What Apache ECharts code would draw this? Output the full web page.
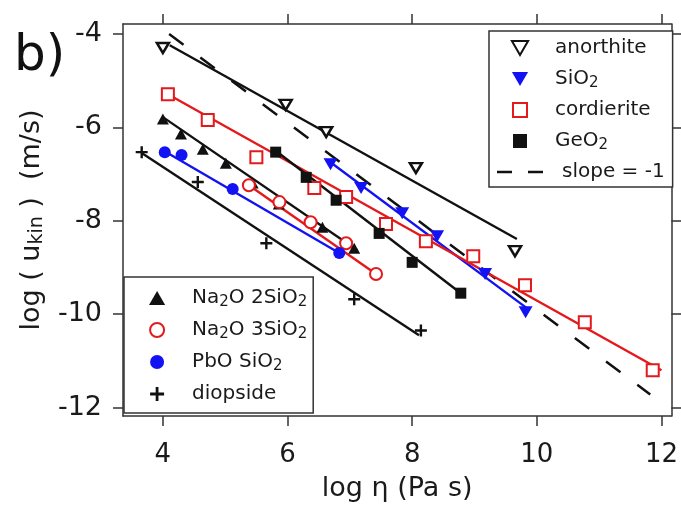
<!DOCTYPE html>
<html><head><meta charset="utf-8">
<script src="https://cdn.jsdelivr.net/npm/echarts@6/dist/echarts.min.js"></script>
<style>html,body{margin:0;padding:0;background:#fff}#c{width:681px;height:507px}</style>
</head><body><div id="c"></div>
<script>
// ---- tick labels ----
const xTicks = [4, 6, 8, 10, 12];
const yTicks = [-12, -10, -8, -6, -4];

// ---- data (log eta, log u_kin) ----
const anorthite = [[4.00,-4.30],[5.97,-5.52],[6.62,-6.10],[8.06,-6.87],[9.65,-8.65]];
const anorthiteFit = [[4.11,-4.24],[9.68,-8.39]];

const sio2 = [[6.69,-6.79],[7.18,-7.30],[7.84,-7.84],[8.40,-8.33],[9.17,-9.14],[9.82,-9.96]];
const sio2Fit = [[6.64,-6.70],[9.84,-9.87]];

const cordierite = [[4.08,-5.29],[4.72,-5.84],[5.50,-6.64],[6.43,-7.30],[6.94,-7.49],[7.58,-8.07],
  [8.22,-8.44],[8.98,-8.76],[9.81,-9.38],[10.77,-10.17],[11.86,-11.20]];
const cordieriteFit = [[4.08,-5.29],[12.00,-11.20]];

const geo2 = [[5.81,-6.53],[6.30,-7.07],[6.78,-7.56],[7.47,-8.27],[8.00,-8.89],[8.78,-9.55]];
const geo2Fit = [[5.81,-6.50],[8.78,-9.55]];

const na2o2sio2 = [[4.00,-5.82],[4.29,-6.14],[4.64,-6.47],[5.01,-6.77],[5.44,-7.19],[5.86,-7.64],[6.56,-8.14],[7.07,-8.59]];
const na2o2sio2Fit = [[4.00,-5.78],[7.12,-8.63]];

const na2o3sio2 = [[5.38,-7.24],[5.87,-7.60],[6.37,-8.03],[6.94,-8.48],[7.42,-9.14]];
const na2o3sio2Fit = [[5.38,-7.24],[7.42,-9.14]];

const pbosio2 = [[4.03,-6.53],[4.30,-6.59],[5.12,-7.32],[6.83,-8.69]];
const pbosio2Fit = [[4.00,-6.49],[6.83,-8.69]];

const diopside = [[3.66,-6.53],[4.56,-7.17],[5.66,-8.48],[7.07,-9.68],[8.14,-10.35]];
const diopsideFit = [[3.66,-6.55],[8.11,-10.45]];

const slopeLine = [[4.10,-4.00],[11.82,-11.72]];

// ---- styling ----
const FONT = 'DejaVu Sans';
const RED = '#e3191c', BLUE = '#1212f2', BLK = '#111';
const DOWN = 'path://M0,0 L10,0 L5,8.66 Z';
const UP = 'path://M5,0 L10,8.66 L0,8.66 Z';
const SQ = 'path://M0,0 H10 V10 H0 Z';
const PLUS = 'path://M4,0 H6 V4 H10 V6 H6 V10 H4 V6 H0 V4 H4 Z';
const DASH2 = 'path://M0,0 H15 V2.5 H0 Z M31,0 H46 V2.5 H31 Z';

function scat(name, data, symbol, size, fill, stroke, bw) {
  return { type: 'scatter', name, data, symbol, symbolSize: size, z: 4,
    itemStyle: { color: fill, borderColor: stroke, borderWidth: bw, opacity: 1 } };
}
function fit(data, color) {
  return { type: 'line', data, symbol: 'none', z: 3, silent: true,
    itemStyle: { color }, lineStyle: { color, width: 2.4 } };
}

const labelMap = {
  'anorthite': '{p|anorthite}',
  'SiO2': '{p|SiO}{s|2}',
  'cordierite': '{p|cordierite}',
  'GeO2': '{p|GeO}{s|2}',
  'slope = -1': '{q|slope = -1}',
  'Na2O 2SiO2': '{p|Na}{s|2}{n|O 2SiO}{s|2}',
  'Na2O 3SiO2': '{p|Na}{s|2}{n|O 3SiO}{s|2}',
  'PbO SiO2': '{p|PbO SiO}{s|2}',
  'diopside': '{p|diopside}'
};
const TXT = '#1a1a1a';
const richLegend = {
  n: { fontSize: 20, lineHeight: 24, fontFamily: FONT, color: TXT, verticalAlign: 'middle' },
  p: { fontSize: 20, lineHeight: 24, fontFamily: FONT, color: TXT, verticalAlign: 'middle', padding: [0,0,0,7] },
  q: { fontSize: 20, lineHeight: 24, fontFamily: FONT, color: TXT, verticalAlign: 'middle', padding: [0,0,0,14] },
  s: { fontSize: 15, lineHeight: 8, fontFamily: FONT, color: TXT, verticalAlign: 'bottom' }
};
function legendItems(names) {
  return names.map(n => ({ name: n }));
}

const axisCommon = {
  type: 'value',
  axisLine: { show: true, onZero: false, lineStyle: { color: '#333', width: 1.5 } },
  axisTick: { show: true, inside: false, length: 10, lineStyle: { color: '#333', width: 1.5 } },
  splitLine: { show: false }
};

const option = {
  animation: false,
  backgroundColor: '#fff',
  grid: { left: 123, right: 8, top: 24, bottom: 91 },
  xAxis: [
    Object.assign({}, axisCommon, {
      position: 'bottom', min: 3.36, max: 12.16,
      axisTick: Object.assign({}, axisCommon.axisTick, { customValues: xTicks }),
      axisLabel: { customValues: xTicks, margin: 26, fontSize: 26, fontFamily: FONT, color: TXT },
      name: 'log η (Pa s)', nameLocation: 'middle', nameGap: 59,
      nameTextStyle: { fontSize: 27, fontFamily: FONT, color: TXT }
    }),
    Object.assign({}, axisCommon, {
      position: 'top', min: 3.36, max: 12.16,
      axisTick: Object.assign({}, axisCommon.axisTick, { customValues: xTicks }),
      axisLabel: { show: false }
    })
  ],
  yAxis: [
    Object.assign({}, axisCommon, {
      position: 'left', min: -12.18, max: -3.786,
      axisTick: Object.assign({}, axisCommon.axisTick, { customValues: yTicks }),
      axisLabel: { customValues: yTicks, margin: 21, fontSize: 27, fontFamily: FONT, color: TXT },
      name: '{m|log ( u}{k|kin}{m| )  (m/s)}', nameLocation: 'middle', nameGap: 76, nameRotate: 90,
      nameTextStyle: { fontSize: 27, fontFamily: FONT, color: TXT,
        rich: {
          m: { fontSize: 27, lineHeight: 30, fontFamily: FONT, color: TXT, verticalAlign: 'middle' },
          k: { fontSize: 19, lineHeight: 10, fontFamily: FONT, color: TXT, verticalAlign: 'bottom' }
        } }
    }),
    Object.assign({}, axisCommon, {
      position: 'right', min: -12.18, max: -3.786,
      axisTick: Object.assign({}, axisCommon.axisTick, { customValues: yTicks }),
      axisLabel: { show: false }
    })
  ],
  legend: [
    {
      orient: 'vertical', left: 489, top: 31, padding: [5, 8, 3, 8],
      itemWidth: 46, itemHeight: 14, itemGap: 7,
      backgroundColor: '#fff', borderColor: '#333', borderWidth: 1.5, borderRadius: 0,
      formatter: n => labelMap[n] || n,
      textStyle: { fontSize: 20, lineHeight: 24, fontFamily: FONT, color: TXT, rich: richLegend },
      data: [
        { name: 'anorthite' }, { name: 'SiO2' }, { name: 'cordierite' }, { name: 'GeO2' },
        { name: 'slope = -1', icon: DASH2, itemStyle: { color: BLK, borderWidth: 0 } }
      ]
    },
    {
      orient: 'vertical', left: 124, top: 277, padding: [9, 6, 7, 25],
      itemWidth: 46, itemHeight: 14, itemGap: 8,
      backgroundColor: '#fff', borderColor: '#333', borderWidth: 1.5, borderRadius: 0,
      formatter: n => labelMap[n] || n,
      textStyle: { fontSize: 20, lineHeight: 24, fontFamily: FONT, color: TXT, rich: richLegend },
      data: legendItems(['Na2O 2SiO2', 'Na2O 3SiO2', 'PbO SiO2', 'diopside'])
    }
  ],
  graphic: [
    { type: 'text', left: 14, top: 32, style: { text: 'b)', font: '50px "DejaVu Sans"', fill: '#111' } }
  ],
  series: [
    fit(anorthiteFit, BLK), fit(sio2Fit, BLUE), fit(cordieriteFit, RED), fit(geo2Fit, BLK),
    fit(na2o2sio2Fit, BLK), fit(na2o3sio2Fit, RED), fit(pbosio2Fit, BLUE), fit(diopsideFit, BLK),
    { type: 'line', name: 'slope = -1', data: slopeLine, symbol: 'none', z: 2,
      itemStyle: { color: BLK }, lineStyle: { color: BLK, width: 2.5, type: [18, 21] } },
    scat('anorthite', anorthite, DOWN, [12, 10], '#fff', BLK, 2.5),
    scat('SiO2', sio2, DOWN, [14, 12], BLUE, BLUE, 0),
    scat('cordierite', cordierite, SQ, 12, '#fff', RED, 2),
    scat('GeO2', geo2, SQ, 11, BLK, BLK, 0),
    scat('Na2O 2SiO2', na2o2sio2, UP, [12, 11], BLK, BLK, 0),
    scat('Na2O 3SiO2', na2o3sio2, 'circle', 12, '#fff', RED, 2),
    scat('PbO SiO2', pbosio2, 'circle', 12, BLUE, BLUE, 0),
    scat('diopside', diopside, PLUS, 12, BLK, BLK, 0)
  ]
};

const chart = echarts.init(document.getElementById('c'), null, { renderer: 'canvas' });
chart.setOption(option);
</script>
</body></html>
